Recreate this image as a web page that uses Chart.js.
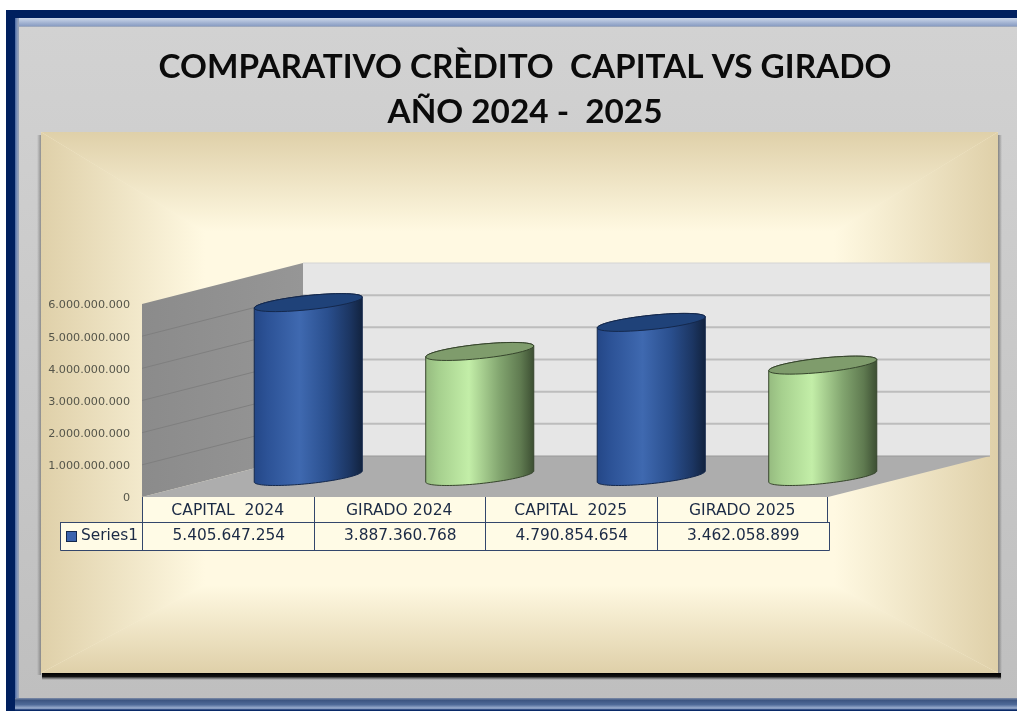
<!DOCTYPE html>
<html lang="es">
<head>
<meta charset="utf-8">
<title>Comparativo crédito capital vs girado</title>
<script src="https://cdn.jsdelivr.net/npm/chart.js@4/dist/chart.umd.min.js"></script>
<style>
html,body{margin:0;padding:0;background:#fff;overflow:hidden}
#wrap{position:absolute;left:0;top:0;width:1017px;height:711px}
canvas{display:block;filter:blur(0.45px)}
</style>
</head>
<body>
<div id="wrap"><canvas id="c" width="1017" height="711"></canvas></div>
<script>
// ---- data ----
const titleLines = ['COMPARATIVO CRÈDITO  CAPITAL VS GIRADO', 'AÑO 2024 -  2025'];
const categories = ['CAPITAL  2024', 'GIRADO 2024', 'CAPITAL  2025', 'GIRADO 2025'];
const seriesName = 'Series1';
const values = [5405647254, 3887360768, 4790854654, 3462058899];
const yMax = 6000000000;
const yStep = 1000000000;

// ---- styling ----
const BLUE = {side: [[0,'#244787'],[.12,'#2c5296'],[.42,'#3f69b0'],[.68,'#2a4f8e'],[.88,'#1c3663'],[1,'#12233f']], top:'#1f4279', line:'#14284c'};
const GREEN = {side: [[0,'#96bb80'],[.12,'#a6d08e'],[.4,'#c3eea8'],[.68,'#83a670'],[.88,'#5f7a50'],[1,'#3d4f33']], top:'#7f9c6c', line:'#36452c'};
const looks = [BLUE, GREEN, BLUE, GREEN];
const DEPTH_X = 161, DEPTH_Y = 41, BACK_RIGHT = 990;
const fmt = v => String(v).replace(/\B(?=(\d{3})+$)/g, '.');
const TABLE_FONT = '15.4px "DejaVu Sans"';
const TABLE_INK = '#1b2a45';

function poly(ctx, pts){ ctx.beginPath(); pts.forEach((p,i)=> i?ctx.lineTo(p[0],p[1]):ctx.moveTo(p[0],p[1])); ctx.closePath(); }
function lin(ctx,x0,y0,x1,y1,stops){ const g=ctx.createLinearGradient(x0,y0,x1,y1); stops.forEach(s=>g.addColorStop(s[0],s[1])); return g; }

function drawFrame(ctx){
  ctx.fillStyle='#fff'; ctx.fillRect(0,0,1017,711);
  ctx.fillStyle='#00205f'; ctx.fillRect(6,10,1011,701);
  // inner bevel
  ctx.fillStyle=lin(ctx,0,18,0,27,[[0,'#cdd8ea'],[.45,'#a9b9d6'],[.85,'#8c9fc4'],[1,'#a8aeb8']]);
  ctx.fillRect(15,18,1002,9);
  ctx.fillStyle=lin(ctx,15,0,19,0,[[0,'#4a68a0'],[.5,'#8094bb'],[1,'#9aa3b3']]);
  ctx.fillRect(15,18,4,682);
  ctx.fillStyle=lin(ctx,0,698,0,710,[[0,'#7f8da8'],[.2,'#3d5682'],[.55,'#4f6a98'],[.85,'#9db0d0'],[1,'#0a2a68']]);
  ctx.fillRect(15,698,1002,13);
  // grey panel
  ctx.fillStyle=lin(ctx,0,27,0,698,[[0,'#d2d2d2'],[1,'#bfbfbf']]);
  ctx.fillRect(19,27,998,671);
}

function drawCreamPanel(ctx){
  const L=41,T=132,R=998,B=673, mL=205,mR=834,mT=232,mB=585;
  // shadows
  ctx.fillStyle=lin(ctx,37,0,41,0,[[0,'rgba(90,90,90,0)'],[1,'rgba(90,90,90,.55)']]);
  ctx.fillRect(37,135,4,540);
  ctx.fillStyle=lin(ctx,998,0,1002,0,[[0,'rgba(80,80,80,.6)'],[1,'rgba(80,80,80,0)']]);
  ctx.fillRect(998,135,4,543);
  ctx.fillStyle=lin(ctx,0,673,0,680,[[0,'#000'],[.5,'#111'],[1,'rgba(60,60,60,0)']]);
  ctx.fillRect(42,673,959,7);
  const edge='#dfd0a9', mid='#fff9e2';
  const st=[[0,edge],[1,mid]];
  const piece=(pts,fill)=>{ poly(ctx,pts); ctx.fillStyle=fill; ctx.fill(); };
  ctx.save();
  ctx.beginPath(); ctx.rect(L,T,R-L,B-T); ctx.clip();
  ctx.fillStyle=mid; ctx.fillRect(L,T,R-L,B-T);
  // side bands first, slightly overlapped by the top and bottom bands to hide seams
  piece([[L,T],[mL+1,mT],[mL+1,mB],[L,B]],lin(ctx,L,0,mL,0,st));
  piece([[R,T],[mR-1,mT],[mR-1,mB],[R,B]],lin(ctx,R,0,mR,0,st));
  const top=lin(ctx,0,T,0,mT,st), bot=lin(ctx,0,B,0,mB,st);
  piece([[L,T],[R,T],[mR,mT],[mL,mT]],top);
  piece([[L,B],[R,B],[mR,mB],[mL,mB]],bot);
  ctx.restore();
}

function drawWalls(chart){
  const ctx=chart.ctx, y=chart.scales.y, a=chart.chartArea;
  const x0=a.left, x1=a.right, bot=y.getPixelForValue(0), top=y.getPixelForValue(yMax);
  const bx=x0+DEPTH_X, by=bot-DEPTH_Y, ty=top-DEPTH_Y;
  // left wall
  poly(ctx,[[x0,top],[bx,ty],[bx,by],[x0,bot]]);
  ctx.fillStyle=lin(ctx,x0,0,bx,0,[[0,'#8b8b8b'],[1,'#969696']]); ctx.fill();
  // back wall
  ctx.fillStyle='#e6e6e6'; ctx.fillRect(bx,ty,BACK_RIGHT-bx,by-ty);
  // floor
  poly(ctx,[[x0,bot],[x1,bot],[BACK_RIGHT,by],[bx,by]]);
  ctx.fillStyle='#adadad'; ctx.fill();
  // grid from the scale ticks
  y.ticks.forEach(t=>{
    const py=y.getPixelForValue(t.value);
    if(t.value>0 && t.value<yMax){
      ctx.strokeStyle='#7f7f7f'; ctx.lineWidth=1;
      ctx.beginPath(); ctx.moveTo(x0,py); ctx.lineTo(bx,py-DEPTH_Y); ctx.stroke();
    }
    if(t.value>0){
      ctx.strokeStyle= t.value===yMax?'#d4d4d4':'#bdbdbd'; ctx.lineWidth=t.value===yMax?1:2;
      ctx.beginPath(); ctx.moveTo(bx,py-DEPTH_Y); ctx.lineTo(BACK_RIGHT,py-DEPTH_Y); ctx.stroke();
    }
  });
  ctx.strokeStyle='#9a9a9a'; ctx.lineWidth=1;
  ctx.beginPath(); ctx.moveTo(bx,by); ctx.lineTo(BACK_RIGHT,by); ctx.stroke();
}

function cylinder(ctx, el, look){
  const halfW=el.width/2, cx=el.x+DEPTH_X/2, topY=el.y-DEPTH_Y/2, botY=el.base-DEPTH_Y/2;
  const C=9, B=33, A=Math.sqrt(halfW*halfW-B*B), th0=Math.atan2(B,A), n=48;
  const P=(t,cy)=>[cx+A*Math.cos(t)+B*Math.sin(t), cy-C*Math.sin(t)];
  const arc=(from,to,cy)=>{const o=[];for(let i=0;i<=n;i++){o.push(P(from+(to-from)*i/n,cy));}return o;};
  const outline=[...arc(th0,th0+Math.PI,topY),...arc(th0+Math.PI,th0+2*Math.PI,botY)];
  poly(ctx,outline);
  ctx.fillStyle=lin(ctx,cx-halfW,0,cx+halfW,0,look.side); ctx.fill();
  ctx.strokeStyle=look.line; ctx.lineWidth=1; ctx.stroke();
  poly(ctx,arc(0,2*Math.PI,topY));
  ctx.fillStyle=look.top; ctx.fill(); ctx.stroke();
}

function drawTable(chart){
  const ctx=chart.ctx, a=chart.chartArea, xs=chart.scales.x;
  const L=60.5,R=829.5,r0=497,r1=522,r2=550, line='#33466b';
  const step=(a.right-a.left)/categories.length;
  ctx.fillStyle='#fffbe6';
  ctx.fillRect(a.left,r0,a.right-a.left,r1-r0);
  ctx.fillRect(L,r1,R-L,r2-r1);
  ctx.strokeStyle=line; ctx.lineWidth=1;
  ctx.beginPath();
  categories.forEach((c,i)=>{
    const gx=Math.round(a.left+step*i)+.5;
    ctx.moveTo(gx,r0); ctx.lineTo(gx,r2);
  });
  ctx.moveTo(Math.round(a.right)-.5,r0); ctx.lineTo(Math.round(a.right)-.5,r1);
  ctx.moveTo(L,r1+.5); ctx.lineTo(R,r1+.5);
  ctx.moveTo(R,r1); ctx.lineTo(R,r2+.5);
  ctx.moveTo(L,r2+.5); ctx.lineTo(R,r2+.5);
  ctx.moveTo(L,r1); ctx.lineTo(L,r2+.5);
  ctx.stroke();
  // legend key
  ctx.fillStyle='#3b63ad'; ctx.fillRect(66.5,531.5,10,10);
  ctx.strokeStyle='#14284c'; ctx.strokeRect(66.5,531.5,10,10);
  ctx.fillStyle=TABLE_INK; ctx.font=TABLE_FONT; ctx.textBaseline='middle';
  ctx.textAlign='left'; ctx.fillText(seriesName,81,536);
  ctx.textAlign='center';
  values.forEach((v,i)=> ctx.fillText(fmt(v), xs.getPixelForValue(i)+1, 536));
}

const decor = {
  id:'decor',
  beforeDraw(chart){ drawFrame(chart.ctx); drawCreamPanel(chart.ctx); drawTable(chart); },
  afterLayout(chart){ const t=chart.titleBlock; t.left=35; t.right=1015; },
  beforeDatasetsDraw(chart){ drawWalls(chart); },
  beforeDatasetDraw(chart,args){
    const els=chart.getDatasetMeta(args.index).data;
    els.forEach((el,i)=>{
      const p=el.getProps(['x','y','base','width'],true);
      cylinder(chart.ctx,p,looks[i]);
    });
    return false;
  }
};

new Chart(document.getElementById('c'),{
  type:'bar',
  data:{labels:categories,datasets:[{label:seriesName,data:values,
    backgroundColor:looks.map(l=>l.top),borderColor:looks.map(l=>l.line),
    categoryPercentage:1,barPercentage:0.63}]},
  plugins:[decor],
  options:{
    responsive:false,animation:false,
    layout:{padding:{left:0,right:189,top:0,bottom:0}},
    plugins:{
      legend:{display:false},tooltip:{enabled:false},
      title:{display:true,text:titleLines,color:'#0b0b0b',
        font:{family:'Lato',weight:'700',size:33.3,lineHeight:45/33.3},
        padding:{top:44.5,bottom:169.5}}
    },
    scales:{
      x:{grid:{display:false,drawTicks:false},border:{display:false},
        ticks:{color:TABLE_INK,font:{family:'DejaVu Sans',size:15.6},padding:5,maxRotation:0,autoSkip:false},
        afterFit(s){s.height=214;}},
      y:{min:0,max:yMax,grid:{display:false,drawTicks:false},border:{display:false},
        ticks:{stepSize:yStep,color:'#55554a',font:{family:'DejaVu Sans',size:11.2},padding:12,labelOffset:1.5,callback:v=>fmt(v)},
        afterFit(s){s.width=142;}}
    }
  }
});
</script>
</body>
</html>
